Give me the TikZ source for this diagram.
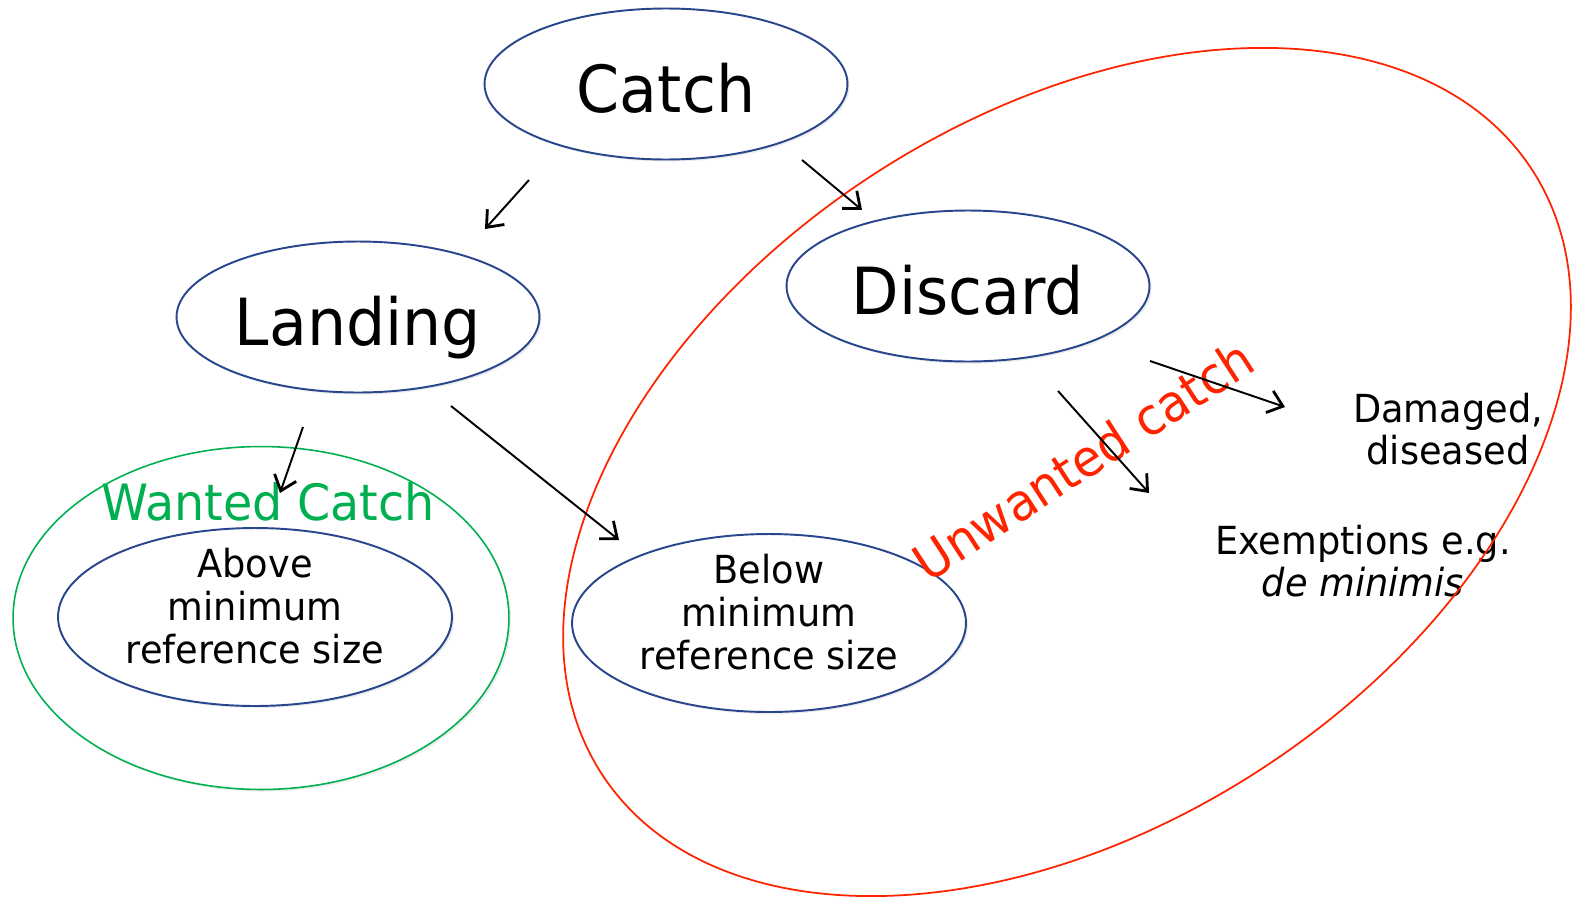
\documentclass[tikz,border=0pt]{standalone}
\usepackage{fontspec}
\setmainfont[FakeStretch=0.95]{DejaVu Sans}
\usetikzlibrary{shapes.geometric,arrows.meta,shadows}
\definecolor{nodeblue}{RGB}{40,70,140}
\definecolor{wantgreen}{RGB}{0,176,80}
\definecolor{unwantred}{RGB}{255,36,0}

\begin{document}
\begin{tikzpicture}[x=0.02cm,y=-0.02cm,
	soft/.style={drop shadow={shadow xshift=1.2pt,shadow yshift=-1.2pt,opacity=.15,fill=black!50}},
	big/.style={ellipse,draw=nodeblue,line width=1.1pt,fill=white,soft,minimum width=7.26cm,minimum height=3.02cm,inner sep=0pt,text height=33pt,text depth=0pt,font=\fontsize{37}{44}\selectfont},
	small/.style={ellipse,draw=nodeblue,line width=1.1pt,fill=white,soft,minimum width=7.88cm,minimum height=3.56cm,inner xsep=0pt,inner ysep=-10pt,align=center,font=\fontsize{22}{24.6}\selectfont},
	note/.style={align=center,inner sep=0pt,font=\fontsize{22}{23.5}\selectfont},
	arr/.style={line width=1.1pt,-{Straight Barb[length=8pt,width=13pt,line width=1.6pt]}}]
			\useasboundingbox (0,0) rectangle (1577,899);
			\node[ellipse,draw=wantgreen,line width=0.9pt,soft,fill=white,minimum width=9.92cm,minimum height=6.86cm] (wc) at (261,618) {};
			\node[big] (ca) at (666,84) {Catch};
			\node[big] (la) at (358,317) {Landing};
			\node[big] (di) at (968,286) {Discard};
			\node[small] (ab) at (255,617) {Above\\minimum\\reference size\rule[-13pt]{0pt}{0pt}};
			\node[small] (be) at (769,623) {Below\\minimum\\reference size\rule[-13pt]{0pt}{0pt}};
			\node[text=wantgreen,inner sep=0pt,font=\fontsize{28.5}{34}\selectfont,anchor=base] (wt) at (268,520) {Wanted Catch};
			\node[note] (dm) at (1448,429) {Damaged,\\diseased};
			\node[note] (ex) at (1363,561) {Exemptions e.g.\\\textit{de minimis}};
			\node[text=unwantred,inner sep=0pt,font=\fontsize{29}{34}\selectfont,rotate=33] (ut) at (1083,460) {Unwanted catch};
			\node[ellipse,draw=unwantred,line width=1pt,rotate=33,minimum width=22.19cm,minimum height=14.2cm] (uc) at (1067,472) {};
			\coordinate (ca1) at (529,180);
			\coordinate (la1) at (485,229);
			\coordinate (ca2) at (802,160);
			\coordinate (di1) at (862,210);
			\coordinate (la2) at (303,427);
			\coordinate (wc1) at (280,493);
			\coordinate (la3) at (451,406);
			\coordinate (be1) at (619,540);
			\coordinate (di2) at (1058,391);
			\coordinate (ex1) at (1149,493);
			\coordinate (di3) at (1150,361);
			\coordinate (dm1) at (1285,407);
			\draw[arr](ca1)--(la1);
			\draw[arr](ca2)--(di1);
			\draw[arr](la2)--(wc1);
			\draw[arr](la3)--(be1);
			\draw[arr](di2)--(ex1);
			\draw[arr](di3)--(dm1);
		\end{tikzpicture}
\end{document}
